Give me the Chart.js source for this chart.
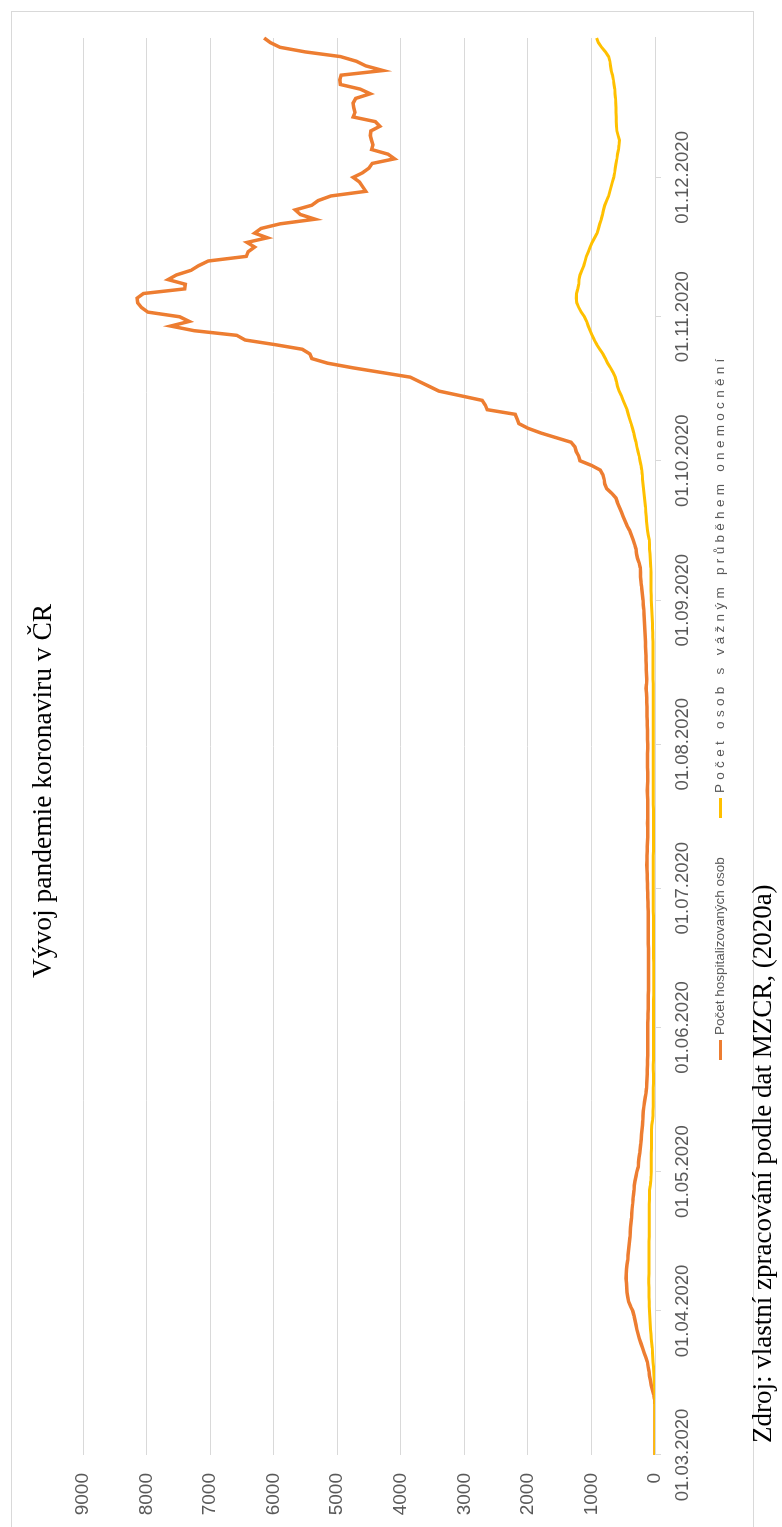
<!DOCTYPE html>
<html lang="cs">
<head>
<meta charset="utf-8">
<script src="https://cdn.jsdelivr.net/npm/chart.js@4.4.0/dist/chart.umd.min.js"></script>
<style>
  html, body { margin: 0; padding: 0; background: #fff; overflow: hidden; }
  body { width: 782px; height: 1527px; position: relative; }
  /* the whole chart is laid out landscape and turned a quarter to the left */
  #frame { position: absolute; left: 0; top: 0; width: 1527px; height: 782px;
           transform-origin: 0 0; transform: translate(0, 1527px) rotate(-90deg); }
  #box { position: absolute; left: -20px; top: 11px; width: 1536px; height: 743px;
         border: 1px solid #d9d9d9; box-sizing: border-box; }
  #chart { position: absolute; left: 0; top: 0; width: 1527px; height: 782px; }
  #title { position: absolute; left: 0; width: 1472px; top: 28px; line-height: 28px;
           text-align: center; font-family: "Liberation Serif", serif; font-size: 27.5px; color: #000; white-space: nowrap; }
  .legend-item { position: absolute; top: 711px; height: 18px; line-height: 18px; white-space: nowrap;
                 font-family: "Liberation Sans", sans-serif; font-size: 13.5px; color: #595959; }
  .legend-item span.swatch { display: inline-block; width: 20px; height: 3px; vertical-align: middle; margin-right: 5px; }
  #source { position: absolute; left: 84px; top: 749px; line-height: 27px; white-space: nowrap;
            font-family: "Liberation Serif", serif; font-size: 27px; color: #000; }
</style>
</head>
<body>
<div id="frame">
  <div id="box"></div>
  <canvas id="chart" width="1527" height="782"></canvas>
  <div id="title">Vývoj pandemie koronaviru v ČR</div>
  <div id="legend"></div>
  <div id="source">Zdroj: vlastní zpracování podle dat MZCR, (2020a)</div>
</div>
<script>
// daily values 01.03.2020 - 31.12.2020
const hospitalized = [
  // March
  0, 0, 0, 0, 0, 0, 0, 0, 0, 0, 0, 3, 8, 20, 40, 60, 72, 85, 95, 108,
  120, 145, 170, 195, 220, 245, 265, 285, 300, 315, 330,
  // April
  350, 385, 415, 430, 440, 445, 450, 455, 452, 447, 440, 430, 425, 418, 410,
  402, 395, 390, 385, 378, 370, 366, 360, 352, 348, 340, 332, 326, 315, 300,
  // May
  285, 265, 258, 250, 240, 232, 224, 218, 212, 205, 198, 192, 188, 184, 175, 165,
  152, 140, 132, 128, 125, 122, 120, 118, 118, 116, 115, 114, 115, 116, 116,
  // June
  116, 115, 112, 110, 108, 107, 106, 105, 104, 103, 104, 103, 102, 103, 104,
  103, 102, 104, 105, 105, 106, 105, 106, 105, 106, 107, 110, 112, 115, 116,
  // July
  117, 118, 120, 122, 125, 128, 126, 124, 122, 120, 118, 116, 115, 116, 117, 116,
  115, 114, 115, 116, 118, 120, 118, 116, 115, 116, 117, 118, 118, 117, 116,
  // August
  116, 117, 118, 119, 120, 122, 124, 125, 126, 128, 130, 135, 140, 132, 130, 134,
  136, 138, 140, 142, 145, 148, 150, 153, 156, 160, 165, 170, 174, 178, 184,
  // September
  190, 198, 205, 212, 222, 228, 230, 232, 250, 275, 290, 300, 320, 345, 370,
  400, 440, 470, 500, 530, 560, 590, 615, 680, 760, 790, 800, 820, 860, 1000,
  // October
  1180, 1200, 1240, 1260, 1320, 1560, 1800, 2000, 2140, 2170, 2200, 2640, 2670, 2720, 3060, 3400,
  3550, 3700, 3850, 4300, 4750, 5150, 5400, 5430, 5550, 5980, 6450, 6580, 7250, 7620, 7330,
  // November
  7480, 7980, 8080, 8140, 8150, 8050, 7400, 7390, 7660, 7530, 7300, 7180, 7030, 6430, 6400,
  6300, 6420, 6100, 6300, 6200, 5900, 5350, 5580, 5660, 5400, 5300, 5100, 4550, 4600, 4650,
  // December
  4750, 4600, 4500, 4450, 4100, 4200, 4460, 4440, 4460, 4480, 4470, 4330, 4400, 4750, 4720, 4740,
  4750, 4710, 4480, 4640, 4950, 4960, 4940, 4280, 4550, 4700, 4950, 5500, 5900, 6050, 6150
];

const seriousCases = [
  // March
  0, 0, 0, 0, 0, 0, 0, 0, 0, 0, 0, 0, 0, 0, 3, 6, 10, 15, 20, 25,
  30, 35, 40, 45, 52, 58, 64, 70, 76, 80, 84,
  // April
  88, 90, 92, 94, 95, 96, 97, 97, 96, 96, 95, 95, 94, 94, 93,
  93, 92, 92, 91, 91, 90, 90, 89, 89, 88, 88, 86, 75, 66, 62,
  // May
  60, 60, 59, 58, 58, 57, 57, 56, 55, 55, 50, 40, 33, 30, 28, 27,
  26, 26, 26, 25, 25, 25, 26, 26, 25, 25, 24, 24, 25, 25, 25,
  // June
  24, 24, 23, 23, 22, 22, 22, 21, 21, 21, 20, 20, 20, 21, 21,
  22, 22, 22, 23, 23, 24, 24, 25, 25, 25, 26, 26, 27, 27, 28,
  // July
  28, 28, 27, 27, 27, 26, 26, 26, 25, 25, 25, 25, 24, 24, 24, 25,
  25, 25, 26, 26, 26, 27, 27, 27, 28, 28, 28, 28, 27, 27, 27,
  // August
  27, 27, 26, 26, 26, 27, 27, 27, 28, 28, 28, 29, 29, 29, 30, 30,
  30, 30, 30, 31, 31, 32, 33, 34, 36, 38, 41, 44, 48, 52, 56,
  // September
  58, 60, 61, 62, 62, 63, 64, 65, 70, 75, 80, 85, 88, 92, 105,
  118, 125, 132, 138, 145, 150, 157, 165, 172, 180, 188, 195, 200, 208, 220,
  // October
  235, 250, 268, 285, 300, 318, 335, 355, 375, 400, 420, 440, 470, 500, 530, 565,
  590, 605, 625, 660, 700, 745, 780, 820, 870, 915, 955, 990, 1020, 1050, 1075,
  // November
  1110, 1160, 1200, 1230, 1240, 1235, 1215, 1200, 1195, 1180, 1150, 1120, 1100, 1080, 1050,
  1020, 990, 950, 910, 890, 870, 845, 825, 810, 790, 760, 730, 710, 690, 670,
  // December
  650, 635, 625, 615, 600, 590, 575, 565, 560, 580, 600, 605, 608, 610, 612, 615,
  618, 620, 628, 635, 645, 655, 670, 690, 700, 710, 730, 780, 840, 890, 920
];

const monthTicks = ['01.03.2020', '01.04.2020', '01.05.2020', '01.06.2020', '01.07.2020',
                    '01.08.2020', '01.09.2020', '01.10.2020', '01.11.2020', '01.12.2020'];
const valueTicks = [0, 1000, 2000, 3000, 4000, 5000, 6000, 7000, 8000, 9000];
const seriesNames = ['Počet hospitalizovaných osob', 'Počet osob s vážným průběhem onemocnění'];
const seriesColors = ['#ED7D31', '#FFC000'];

// one category per day, starting 01.03.2020
const dates = hospitalized.map((v, i) => {
  const d = new Date(Date.UTC(2020, 2, 1 + i));
  return String(d.getUTCDate()).padStart(2, '0') + '.' +
         String(d.getUTCMonth() + 1).padStart(2, '0') + '.' + d.getUTCFullYear();
});

// legend built by hand so each entry can sit where it does in the picture
const legendPlaces = [{ left: 467, spacing: 0 }, { left: 709, spacing: 4.3 }];
const legend = document.getElementById('legend');
seriesNames.forEach((name, i) => {
  const item = document.createElement('div');
  item.className = 'legend-item';
  item.style.left = legendPlaces[i].left + 'px';
  item.style.letterSpacing = legendPlaces[i].spacing + 'px';
  const swatch = document.createElement('span');
  swatch.className = 'swatch';
  swatch.style.background = seriesColors[i];
  item.appendChild(swatch);
  item.appendChild(document.createTextNode(name));
  legend.appendChild(item);
});

const ctx = document.getElementById('chart').getContext('2d');
const chart = new Chart(ctx, {
  type: 'line',
  data: {
    labels: dates,
    datasets: [
      { label: seriesNames[0], data: hospitalized, borderColor: seriesColors[0], backgroundColor: seriesColors[0],
        borderWidth: 3.5, pointRadius: 0, tension: 0, order: 1 },
      { label: seriesNames[1], data: seriousCases, borderColor: seriesColors[1], backgroundColor: seriesColors[1],
        borderWidth: 3, pointRadius: 0, tension: 0, order: 0 },
    ],
  },
  options: {
    responsive: false,
    animation: false,
    layout: { padding: { left: 0, right: 38, top: 83, bottom: 0 } },
    plugins: {
      legend: { display: false },
      title: { display: false },
      tooltip: { enabled: false },
    },
    scales: {
      x: {
        type: 'category',
        afterBuildTicks: scale => {
          scale.ticks = scale.ticks.filter(t => monthTicks.includes(dates[t.value]));
        },
        afterFit: scale => { scale.height = 127; },
        ticks: { autoSkip: false, maxRotation: 0, padding: 11, color: '#595959',
                 font: { family: 'Liberation Sans', size: 18.5 } },
        grid: { display: true, drawOnChartArea: false, drawTicks: true, tickLength: 6, color: '#d9d9d9' },
        border: { display: true, color: '#d9d9d9' },
      },
      y: {
        min: valueTicks[0],
        max: valueTicks[valueTicks.length - 1],
        afterBuildTicks: scale => { scale.ticks = valueTicks.map(v => ({ value: v })); },
        afterFit: scale => { scale.width = 72; },
        ticks: { padding: 18, color: '#595959', font: { family: 'Liberation Sans', size: 19 },
                 callback: value => String(value) },
        grid: { color: '#d9d9d9', drawTicks: false },
        border: { display: false },
      },
    },
  },
});
</script>
</body>
</html>
